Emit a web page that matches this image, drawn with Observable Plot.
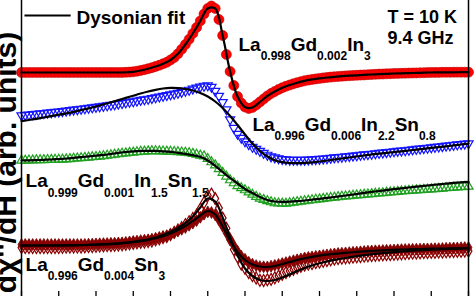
<!DOCTYPE html>
<html><head><meta charset="utf-8">
<script src="https://cdn.jsdelivr.net/npm/d3@7"></script>
<script src="https://cdn.jsdelivr.net/npm/@observablehq/plot@0.6"></script>
<style>body{margin:0;background:#fff}</style>
</head><body><div id="chart"></div>
<script>
// Field sweep (arb. field units); data sampled every 0.05, fits every 0.1
const dataStep = 0.05, fitStep = 0.1;
const fieldTicks = [0,0.5,1,1.5,2,2.5,3,3.5,4,4.5,5,5.5,6];

// La0.998Gd0.002In3 (red circles), offset spectrum, arb. units
const dataRed = [
225,225,225,225,225,225,225,225,225,225,
225,225,225,225,225,225,225,225,225,225,
225,225,225,225,225,225,225,225,225.2,225.4,
225.7,226.3,227,227.8,228.8,229.8,231,232.2,233.7,235.2,
237.5,240,243.7,248.2,253,258.2,264,270,276.5,283.5,
289,291.5,289,278,262,243,226,212,201,194.5,
190.5,189,190,192.5,195.5,198.5,201.5,204,206,208,
209.7,211.2,212.5,213.7,214.8,215.8,216.7,217.4,218,218.6,
219.1,219.6,220,220.4,220.7,221,221.3,221.6,221.8,222,
222.2,222.4,222.6,222.8,223,223.2,223.4,223.5,223.7,223.8,
224,224.1,224.2,224.3,224.4,224.5,224.6,224.7,224.8,224.9,
225,225.1,225.1,225.2,225.2,225.2,225.3,225.3,225.3,225.3,
225.3];
const fitRed = [
225,225,225,225,225,225,225,225,225,225,
225,225,225,225,225.2,225.7,227,228.8,231,233.7,
237.5,243.7,253,264,276.5,289,289,262,226,201,
190.5,190,195.5,201.5,206,209.7,212.5,214.8,216.7,218,
219.1,220,220.7,221.3,221.8,222.2,222.6,223,223.4,223.7,
224,224.2,224.4,224.6,224.8,225,225.1,225.2,225.2,225.3,
225.3];

// La0.996Gd0.006In2.2Sn0.8 (blue down-triangles)
const dataBlue = [
182,182.4,182.8,183.2,183.6,184,184.3,184.7,185.1,185.5,
185.8,186.2,186.7,187.2,187.7,188.1,188.6,189,189.5,190,
190.4,190.9,191.4,192,192.6,193.1,193.7,194.3,194.9,195.5,
196.1,196.7,197.4,198,198.6,199.3,200,200.8,201.5,202.3,
203,203.7,204.5,205.4,206.5,207.6,208.7,209.8,210.7,211.6,
212,210.5,206.5,201.5,195.3,188,178,169.5,163.5,159.5,
156,153.2,150.5,148.5,146.4,144.4,142.6,140.9,139.9,139,
138.3,137.9,137.6,137.5,137.5,137.5,137.5,137.8,138,138.2,
138.4,138.8,139.1,139.5,139.9,140.3,140.6,141,141.3,141.7,
142.1,142.5,142.9,143.2,143.6,144,144.4,144.8,145.2,145.6,
146,146.4,146.7,147.1,147.5,147.9,148.4,148.8,149.2,149.6,
150,150.4,150.8,151.2,151.7,152.1,152.4,152.9,153.3,153.7,
154];
const fitBlue = [
176.3,177.5,178.7,180,181.4,182.8,184.2,185.7,187.4,189.1,
191,193,195.2,197.4,199.6,201.8,204,206,207.7,209,
209.6,209.4,208.5,207,204.5,201,196,189.5,181.5,172.5,
163,154,146.5,141,137.2,135.3,134.5,134.3,134.6,135.2,
136,137,138,139,140,141,142,143,143.8,144.6,
145.4,146.2,147,147.8,148.7,149.6,150.4,151.2,152.1,153,
154];

// La0.999Gd0.001In1.5Sn1.5 (green up-triangles)
const dataGreen = [
137,137.1,137.2,137.3,137.4,137.5,137.6,137.7,137.8,137.9,
138,138.1,138.3,138.6,138.9,139.2,139.5,139.8,140.1,140.4,
140.7,141,141.4,141.9,142.4,142.9,143.4,143.9,144.3,144.8,
145.1,145.5,145.9,146.1,146.3,146.5,146.4,146.3,146.2,146.1,
146,145.7,145.4,145.2,144.9,144.6,143.8,143,142.1,141.3,
138.7,135.4,132.3,128.6,124.8,121.1,117.4,114.4,111.5,109.5,
107.4,105.2,103,100.8,99,97.8,96.6,95.4,94.4,94.2,
94.1,94,94.5,95,95.6,96,96.5,97,97.4,97.9,
98.3,98.8,99.2,99.7,100.1,100.6,100.9,101.2,101.6,101.9,
102.2,102.6,102.9,103.2,103.6,103.9,104.2,104.5,104.9,105.2,
105.5,105.8,106.2,106.5,106.8,107,107.3,107.5,107.8,108,
108.3,108.5,108.8,109.1,109.4,109.7,109.9,110.2,110.4,110.7,
111];
const fitGreen = [
137,137.2,137.4,137.7,138,138.5,139,139.7,140.4,141.1,
141.8,142.6,143.6,144.6,145.5,146.2,146.6,146.7,146.6,146.2,
145.6,144.7,143.6,142.3,140.7,137,131.7,125.5,119.5,114,
108.5,104.5,100.5,97.5,96,95.6,95.8,96.3,97,97.8,
98.7,99.6,100.5,101.5,102.5,103.5,104.6,105.6,106.5,107.4,
108.3,109.2,110,110.8,111.6,112.4,113.2,113.9,114.6,115.2,
115.7];

// La0.996Gd0.004Sn3 (dark red diamonds, two sweeps)
const dataDarkA = [
53,53,53,53,53,53,53,53,53,53,
53,53,53,53,53,53,53,53.1,53.3,53.4,
53.6,53.7,53.9,54,54.2,54.3,54.5,54.7,55.1,55.6,
56,56.4,56.9,57.3,57.7,58.3,59.2,60.1,61,61.8,
63.3,64.9,66.6,68.2,70,72.2,74.4,76.9,80.2,83.3,
85.6,85,82.7,77.4,71.3,64.6,57.7,52,46.3,41.4,
38.2,35.2,33.3,31.9,30.9,30.7,30.6,31.3,32.1,33,
34,34.9,35.9,36.8,37.7,38.6,39.5,40.1,40.6,41.1,
41.6,42.1,42.6,43.1,43.6,44,44.3,44.6,44.9,45.2,
45.4,45.7,46,46.3,46.5,46.7,46.8,47,47.2,47.3,
47.5,47.7,47.9,48,48.1,48.2,48.3,48.4,48.5,48.6,
48.7,48.8,48.9,49,49.2,49.3,49.5,49.6,49.7,49.9,
50];
const dataDarkB = [
50,50,50,50,50,50,50,50,50,50,
50,50.2,50.3,50.3,50.4,50.4,50.5,50.6,50.8,51,
51.2,51.4,51.6,51.8,52,52.2,52.4,52.7,53.2,53.7,
54.1,54.6,55.1,55.5,55.9,56.5,57.6,58.7,59.8,60.8,
62.8,65.1,67.5,69.8,72.9,75.8,79,82.4,88.4,94.8,
101.9,103.4,98.9,89.4,79.4,69.2,58.2,47.9,40.6,33.4,
29.2,24.8,21.8,19.5,17.2,17,17.7,18.2,19.7,21.4,
23.1,25,26.6,28.1,29.6,31.1,32.5,33.3,34,34.8,
35.5,36.2,37,37.7,38.4,39,39.3,39.7,40,40.3,
40.7,41,41.3,41.7,42,42.2,42.4,42.6,42.8,43,
43.2,43.5,43.7,44,44.2,44.3,44.5,44.6,44.8,44.9,
45.1,45.2,45.4,45.5,45.7,45.8,45.9,46.1,46.2,46.4,
46.5];
const fitDarkA = [
52,52,52,52,52,52,52.1,52.2,52.3,52.5,
52.7,53,53.4,53.9,54.5,55.3,56.3,57.6,59.2,61.3,
64,67.5,71.5,76.5,82,86.5,83,71,57,45.5,
37.5,33,31,30.5,31.5,33.5,35.5,37.5,39.2,40.6,
41.8,42.8,43.7,44.4,45,45.6,46.1,46.6,47,47.4,
47.7,48,48.2,48.4,48.6,48.8,48.9,49,49.1,49.2,
49.3];
const fitDarkB = [
52,52,52,52,52,52.1,52.2,52.3,52.5,52.7,
53,53.3,53.7,54.2,54.9,55.7,56.8,58.2,60,62.5,
65.5,69.5,74.5,81,90,99,96,80,60,42,
29,21.5,17.5,16.5,17.5,20,23,26.5,29.5,32,
34.2,36,37.6,39,40.2,41.3,42.3,43.2,44,44.7,
45.4,46,46.5,47,47.4,47.8,48.1,48.4,48.7,49,
49.2];

// Text labels (formula subscripts in braces), anchored in data coordinates
const formulaLabels = [
  {x: 2.913, y: 247, text: "La{0.998}Gd{0.002}In{3}"},
  {x: 3.10,  y: 167, text: "La{0.996}Gd{0.006}In{2.2}Sn{0.8}"},
  {x: 0.054, y: 110.3, text: "La{0.999}Gd{0.001}In{1.5}Sn{1.5}"},
  {x: 0.054, y: 27,  text: "La{0.996}Gd{0.004}Sn{3}"}
];
const conditionLabels = [
  {x: 4.913, y: 275, text: "T = 10 K"},
  {x: 4.913, y: 254, text: "9.4 GHz"}
];
const legendLine = [{x1: 0.04, x2: 0.66, y: 282}];
const legendText = [{x: 0.738, y: 274, text: "Dysonian fit"}];
const yLabel = "dχ''/dH (arb. units)";

const rows = (vals, step) => vals.map((v, i) => ({H: +(i * step).toFixed(2), v}));
const font = '"Liberation Sans", Arial, Helvetica, sans-serif';
const fitStyle = {x: "H", y: "v", stroke: "black", strokeWidth: 2.2, curve: "catmull-rom"};

// Formula labels: one text mark per segment, subscripts shifted down
const ctx = document.createElement("canvas").getContext("2d");
function formulaMarks(labels, mainSize, subSize, shift) {
  const marks = [];
  for (const lab of labels) {
    let off = 0;
    lab.text.split(/(\{[^}]*\})/).filter(s => s).forEach(p => {
      const sub = p.startsWith("{");
      const s = sub ? p.slice(1, -1) : p;
      const size = sub ? subSize : mainSize;
      ctx.font = `bold ${size}px ${font}`;
      marks.push(Plot.text([lab], {x: "x", y: "y", text: () => s, dx: off, dy: sub ? shift : 0,
        textAnchor: "start", lineAnchor: "bottom", fontSize: size, fontWeight: "bold", fill: "black"}));
      off += ctx.measureText(s).width;
    });
  }
  return marks;
}

const chart = Plot.plot({
  width: 474, height: 296,
  marginLeft: 21, marginRight: 6, marginTop: 0, marginBottom: 0,
  x: {domain: [0, 6], axis: null},
  y: {domain: [0, 297], range: [297, 0], axis: null},
  style: {background: "white", fontFamily: font, overflow: "hidden"},
  marks: [
    Plot.dot(rows(dataRed, dataStep), {x: "H", y: "v", r: 5, fill: "#ff0000", stroke: "#c00000", strokeWidth: 0.6}),
    Plot.line(rows(fitRed, fitStep), fitStyle),
    Plot.dot(rows(dataBlue, dataStep), {x: "H", y: "v", symbol: "triangle", rotate: 180, r: 3.4, fill: "none", stroke: "#1414ff", strokeWidth: 1.2}),
    Plot.line(rows(fitBlue, fitStep), fitStyle),
    Plot.dot(rows(dataGreen, dataStep), {x: "H", y: "v", symbol: "triangle", r: 3.4, fill: "none", stroke: "#20a020", strokeWidth: 1.2}),
    Plot.line(rows(fitGreen, fitStep), fitStyle),
    Plot.dot(rows(dataDarkA, dataStep), {x: "H", y: "v", symbol: "diamond", r: 3.6, fill: "#8b0000", stroke: "#7a0000", strokeWidth: 0.8}),
    Plot.dot(rows(dataDarkB, dataStep), {x: "H", y: "v", symbol: "diamond", r: 3.6, fill: "none", stroke: "#8b0000", strokeWidth: 1.2}),
    Plot.line(rows(fitDarkA, fitStep), fitStyle),
    Plot.line(rows(fitDarkB, fitStep), fitStyle),
    Plot.ruleX([0, 6], {stroke: "black", strokeWidth: 1.5}),
    Plot.ruleX(fieldTicks, {x: d => d, y1: 0, y2: 6, stroke: "black", strokeWidth: 1.3}),
    Plot.link(legendLine, {x1: "x1", x2: "x2", y1: "y", y2: "y", stroke: "black", strokeWidth: 2}),
    Plot.text(legendText, {x: "x", y: "y", text: "text", textAnchor: "start", lineAnchor: "bottom", fontSize: 19, fontWeight: "bold", fill: "black"}),
    Plot.text(conditionLabels, {x: "x", y: "y", text: "text", textAnchor: "start", lineAnchor: "bottom", fontSize: 18, fontWeight: "bold", fill: "black"}),
    ...formulaMarks(formulaLabels, 19, 12, 9.5),
    Plot.text([yLabel], {text: d => d, frameAnchor: "left", rotate: -90, dx: -6, dy: 14, lineAnchor: "bottom", textAnchor: "middle", fontSize: 30, fontWeight: "bold", fill: "black"})
  ]
});

document.getElementById("chart").appendChild(chart);
</script>
</body></html>
